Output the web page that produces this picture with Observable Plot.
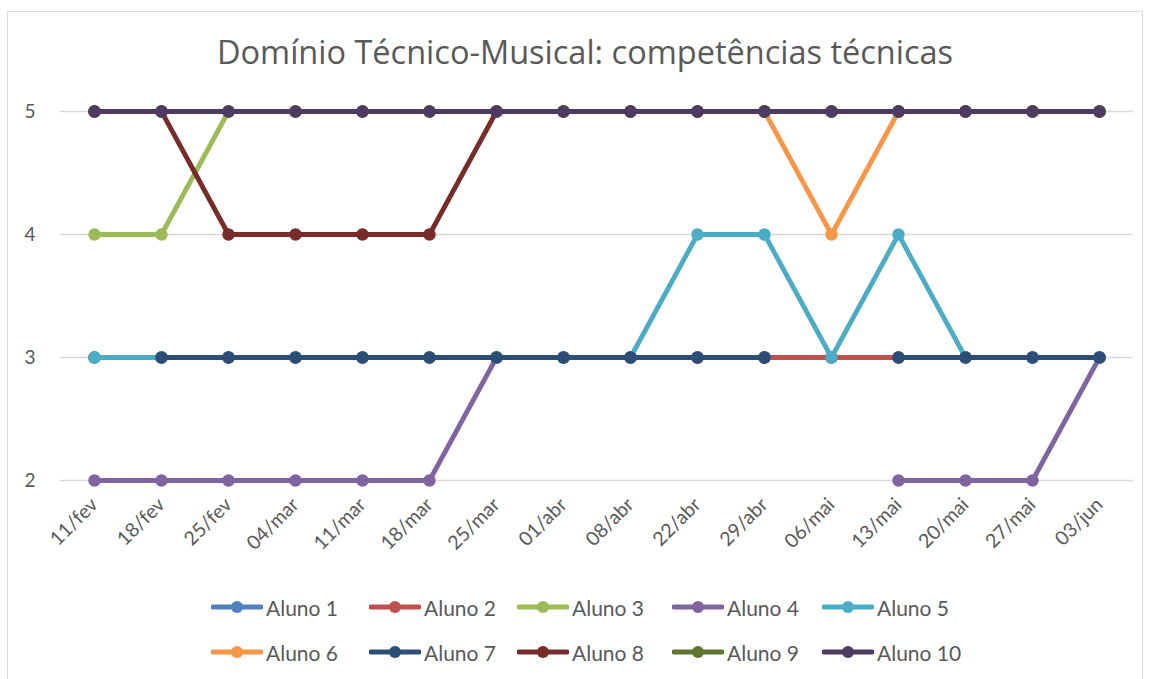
<!DOCTYPE html>
<html>
<head>
<meta charset="utf-8">
<script src="https://cdn.jsdelivr.net/npm/d3@7"></script>
<script src="https://cdn.jsdelivr.net/npm/@observablehq/plot@0.6"></script>
<style>
  html, body { margin: 0; padding: 0; background: #fff; }
  #wrap { position: relative; width: 1152px; height: 679px; overflow: hidden; font-family: Lato, "Open Sans", sans-serif; }
  #frame { position: absolute; left: 7px; top: 11px; width: 1136px; height: 700px; border: 1.5px solid #d9d9d9; box-sizing: border-box; }
  #title { position: absolute; left: 585px; top: 29px; transform: translateX(-50%); white-space: nowrap;
           font-family: "Open Sans", sans-serif; font-size: 32.5px; color: #595959; line-height: normal; }
  #chart { position: absolute; left: 0; top: 0; }
  .legitem { position: absolute; display: flex; align-items: center; color: #595959; font-size: 21px; white-space: nowrap; }
  .legitem svg { flex: none; margin-right: 3px; }
</style>
</head>
<body>
<div id="wrap">
  <div id="frame"></div>
  <div id="chart"></div>
  <div id="title">Domínio Técnico-Musical: competências técnicas</div>
  <div id="legend"></div>
</div>
<script>
const dates = ["11/fev","18/fev","25/fev","04/mar","11/mar","18/mar","25/mar","01/abr","08/abr","22/abr","29/abr","06/mai","13/mai","20/mai","27/mai","03/jun"];
const seriesNames = ["Aluno 1","Aluno 2","Aluno 3","Aluno 4","Aluno 5","Aluno 6","Aluno 7","Aluno 8","Aluno 9","Aluno 10"];
const seriesColors = ["#4F81BD","#C0504D","#9BBB59","#8064A2","#4BACC6","#F79646","#2C4D75","#772C2A","#5F7530","#4D3B62"];
const aluno1  = [3,3,3,3,3,3,3,3,3,3,3,3,3,3,3,3];
const aluno2  = [3,3,3,3,3,3,3,3,3,3,3,3,3,3,3,3];
const aluno3  = [4,4,5,5,5,5,5,5,5,5,5,5,5,5,5,5];
const aluno4  = [2,2,2,2,2,2,3,3,3,3,3,null,2,2,2,3];
const aluno5  = [3,3,3,3,3,3,3,3,3,4,4,3,4,3,3,3];
const aluno6  = [5,5,5,5,5,5,5,5,5,5,5,4,5,5,5,5];
const aluno7  = [null,3,3,3,3,3,3,3,3,3,3,null,3,3,3,3];
const aluno8  = [5,5,4,4,4,4,5,5,5,5,5,5,5,5,5,5];
const aluno9  = [5,5,5,5,5,5,5,5,5,5,5,5,5,5,5,5];
const aluno10 = [5,5,5,5,5,5,5,5,5,5,5,5,5,5,5,5];
const yTicks = [2,3,4,5];

const allValues = [aluno1,aluno2,aluno3,aluno4,aluno5,aluno6,aluno7,aluno8,aluno9,aluno10];

const marks = [Plot.ruleY(yTicks, {stroke: "#d9d9d9", strokeWidth: 1.3})];
allValues.forEach((vals, i) => {
  const rows = dates.map((d, j) => ({date: d, value: vals[j], name: seriesNames[i]}));
  marks.push(Plot.line(rows, {x: "date", y: "value", stroke: seriesColors[i], strokeWidth: 4.8, curve: "linear"}));
  marks.push(Plot.dot(rows.filter(r => r.value != null), {x: "date", y: "value", r: 6.2, fill: seriesColors[i], stroke: "none"}));
});

const chart = Plot.plot({
  width: 1152,
  height: 580,
  marginLeft: 60,
  marginRight: 19,
  marginTop: 111,
  marginBottom: 100,
  style: {fontFamily: "Lato, sans-serif", color: "#595959", background: "transparent", overflow: "visible"},
  x: {type: "point", domain: dates, padding: 0.5, label: null, axis: null},
  y: {domain: [2, 5], label: null, axis: null},
  marks: [
    ...marks,
    Plot.axisX({tickSize: 0, tickPadding: 21, tickRotate: -45, fontSize: 19.5, label: null}),
    Plot.axisY(yTicks, {tickSize: 0, tickPadding: 25, fontSize: 19, label: null, tickFormat: d3.format("d")})
  ]
});
document.getElementById("chart").appendChild(chart);

const legendTextX = [266, 424, 572, 727, 877];
const legendRowY = [607, 652];
const legend = document.getElementById("legend");
seriesNames.forEach((n, i) => {
  const col = i % 5, row = Math.floor(i / 5);
  const el = document.createElement("div");
  el.className = "legitem";
  const c = seriesColors[i];
  el.style.left = (legendTextX[col] - 55) + "px";
  el.style.top = (legendRowY[row] - 14) + "px";
  el.style.height = "28px";
  el.innerHTML = `<svg width="52" height="14"><line x1="2" y1="7" x2="50" y2="7" stroke="${c}" stroke-width="5" stroke-linecap="round"/><circle cx="26" cy="7" r="6" fill="${c}"/></svg><span>${n}</span>`;
  legend.appendChild(el);
});
</script>
</body>
</html>
